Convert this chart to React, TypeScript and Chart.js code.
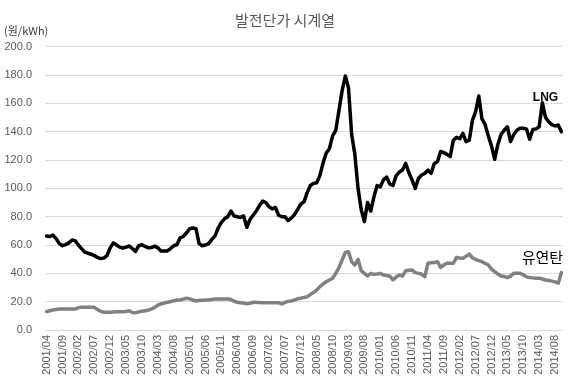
import React, { useEffect, useRef } from "react";
import { Chart, registerables } from "chart.js";

Chart.register(...registerables);

const TITLE = "발전단가 시계열";
const UNIT = "(원/kWh)";
const START_YEAR = 2001;
const START_MONTH = 4;
const MONTH_COUNT = 163; // 2001/04 .. 2014/10
const LABEL_STEP = 5;

const yTicks = [0, 20, 40, 60, 80, 100, 120, 140, 160, 180, 200];

const lngValues = [
  66.4, 66, 67, 64.5, 61, 59.5, 60.3, 61.5, 63.5, 63,
  60, 57.5, 55, 54.2, 53.5, 52.5, 51.2, 50.4, 50.8, 52.5,
  58, 61.5, 60, 58.5, 57.8, 58.5, 59.3, 57.5, 55.5, 59.5,
  60.2, 59, 58, 58.2, 59.2, 58, 55.8, 55.8, 55.8, 57.5,
  59.5, 60.2, 65, 66, 68.5, 71.5, 72, 71.5, 61, 59.5,
  60, 61, 64, 66.5, 72, 76, 78.5, 80, 84, 80.5,
  80, 79.5, 80.5, 72.5, 78, 81, 84, 88, 91, 90,
  87, 85.5, 86.5, 81, 80, 80, 77.2, 79, 81.5, 85,
  89, 90.5, 97, 102, 103.5, 104, 109, 118, 125, 128,
  137, 141, 155, 169, 179.3, 171, 138, 124, 100, 85,
  76.5, 90, 84, 94, 102, 101, 106, 108, 103, 102,
  109, 111.5, 113, 117.6, 111, 106, 100, 107, 109.4, 110.5,
  112.9, 110.6, 117.6, 118.8, 126, 125.2, 124, 122.4, 134, 136,
  135, 138.8, 133, 134, 148, 154, 165.2, 149, 145, 137,
  130, 120.5, 131, 138, 141, 143.5, 133, 138, 141, 142.4,
  142.4, 142, 134.6, 141.6, 142, 143.5, 160.5, 150, 147, 145,
  144, 144.7, 140,
];

const coalValues = [
  13, 13.6, 14.1, 14.5, 14.8, 14.8, 14.8, 14.8, 14.8, 14.8,
  15.8, 16, 16, 16, 16, 16, 14.5, 13.2, 12.5, 12.5,
  12.6, 12.7, 12.8, 12.9, 12.9, 13, 13.6, 12.4, 12.2, 12.8,
  13.2, 13.6, 14, 14.8, 16, 17.5, 18.4, 19, 19.6, 20,
  20.6, 21.2, 21.2, 21.8, 22.4, 22, 21.2, 20.5, 20.8, 21,
  21.1, 21.2, 21.5, 21.9, 21.9, 21.9, 21.9, 21.9, 21.5, 20.3,
  19.6, 19.3, 19, 18.5, 18.8, 19.6, 19.5, 19.4, 19.3, 19.3,
  19.3, 19.3, 19.3, 19.3, 18.4, 19.5, 20.2, 20.5, 21.2, 22,
  22.4, 23, 23.5, 25, 26.4, 28.2, 30.6, 32.5, 34.1, 35.3,
  36.5, 40, 44, 49.4, 54.8, 55.3, 48.2, 45.9, 49.9, 41.9,
  40, 38.1, 40, 39.3, 39.5, 40, 38.8, 38.5, 38.1, 35.3,
  37.5, 38.8, 38.1, 41.9, 42.2, 42.4, 40.5, 40, 39.5, 37.6,
  47.1, 47.5, 47.6, 48.2, 44.2, 46, 47.1, 47.1, 47.1, 51.3,
  50.8, 50.6, 52, 53.6, 51, 49.9, 49, 48.2, 47, 45.9,
  43, 41.2, 39.5, 38.1, 37.8, 37, 38, 40, 40, 40,
  39, 37.5, 37, 36.8, 36.6, 36.5, 36, 35.3, 35, 34.5,
  34, 33, 40.5,
];

const categories: string[] = [];
for (let k = 0; k < MONTH_COUNT; k++) {
  const m0 = START_MONTH - 1 + k;
  const y = START_YEAR + Math.floor(m0 / 12);
  const m = (m0 % 12) + 1;
  categories.push(`${y}/${m < 10 ? "0" + m : m}`);
}

const LNG_NAME = "LNG";
const COAL_NAME = "유연탄";
const lngLabelAt = { index: 157, value: 164 };
const coalLabelAt = { index: 156, value: 51 };

const LATIN = "'Liberation Sans', Arial, sans-serif";
const KOREAN = "'Noto Sans CJK KR', 'Noto Sans', sans-serif";

export default function App() {
  const ref = useRef<HTMLCanvasElement>(null);

  useEffect(() => {
    document.body.style.margin = "0";
    const canvas = ref.current;
    if (!canvas) return;

    const textPlugin = {
      id: "extraText",
      afterDatasetsDraw(chart: any) {
        const ctx = chart.ctx;
        const xs = chart.scales.x;
        const ys = chart.scales.y;
        ctx.save();
        ctx.textBaseline = "middle";
        ctx.fillStyle = "#404040";
        ctx.textAlign = "left";
        ctx.font = `11px ${KOREAN}`;
        ctx.fillText(UNIT, 4, 31);
        ctx.textAlign = "center";
        ctx.fillStyle = "#000000";
        ctx.font = `bold 12px ${LATIN}`;
        ctx.fillText(
          LNG_NAME,
          xs.getPixelForValue(lngLabelAt.index),
          ys.getPixelForValue(lngLabelAt.value)
        );
        ctx.font = `15px ${KOREAN}`;
        ctx.fillText(
          COAL_NAME,
          xs.getPixelForValue(coalLabelAt.index),
          ys.getPixelForValue(coalLabelAt.value)
        );
        ctx.restore();
      },
    };

    const chart = new Chart(canvas, {
      type: "line",
      data: {
        labels: categories,
        datasets: [
          {
            label: LNG_NAME,
            data: lngValues,
            borderColor: "#000000",
            borderWidth: 3.5,
            pointRadius: 0,
            tension: 0,
            borderJoinStyle: "round",
            borderCapStyle: "round",
          },
          {
            label: COAL_NAME,
            data: coalValues,
            borderColor: "#808080",
            borderWidth: 3.5,
            pointRadius: 0,
            tension: 0,
            borderJoinStyle: "round",
            borderCapStyle: "round",
          },
        ],
      },
      options: {
        responsive: false,
        animation: false,
        devicePixelRatio: 1,
        layout: { padding: { top: 0, left: 0, right: 0, bottom: 0 } },
        plugins: {
          legend: { display: false },
          tooltip: { enabled: false },
          title: {
            display: true,
            text: TITLE,
            color: "#595959",
            font: { family: KOREAN, size: 15, weight: "normal", lineHeight: 1.2 },
            padding: { top: 11, bottom: 17.7 },
          },
        },
        scales: {
          x: {
            type: "category",
            offset: true,
            grid: { display: false, drawTicks: false },
            border: { display: false },
            afterFit(scale: any) {
              scale.height = 52;
              scale.paddingRight = 7;
              scale.paddingLeft = 0;
            },
            ticks: {
              autoSkip: false,
              minRotation: 90,
              maxRotation: 90,
              padding: 5,
              color: "#595959",
              font: { family: LATIN, size: 11 },
              callback: (_v: any, i: number) =>
                i % LABEL_STEP === 0 ? categories[i] : "",
            },
          },
          y: {
            min: yTicks[0],
            max: yTicks[yTicks.length - 1],
            afterBuildTicks(scale: any) {
              scale.ticks = yTicks.map((v) => ({ value: v }));
            },
            afterFit(scale: any) {
              scale.width = 45;
            },
            grid: { color: "#d9d9d9", lineWidth: 1, drawTicks: false },
            border: { display: false },
            ticks: {
              padding: 13,
              color: "#595959",
              font: { family: LATIN, size: 11 },
              callback: (v: any) => Number(v).toFixed(1),
            },
          },
        },
      },
      plugins: [textPlugin],
    });

    return () => chart.destroy();
  }, []);

  return (
    <div style={{ width: 570, height: 382 }}>
      <canvas ref={ref} width={570} height={382} />
    </div>
  );
}
